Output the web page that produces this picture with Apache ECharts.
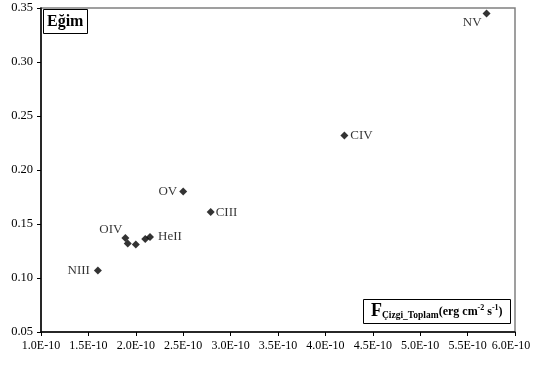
<!DOCTYPE html>
<html><head><meta charset="utf-8">
<script src="https://cdn.jsdelivr.net/npm/echarts@6/dist/echarts.min.js"></script>
<style>html,body{margin:0;padding:0;background:#fff}#c{width:533px;height:365px}</style>
</head><body><div id="c"></div>
<script>
// Flux values in units of 1E-10 erg cm^-2 s^-1
var names   = ['NIII','OIV','', '', '', 'HeII','OV','CIII','CIV','NV'];
var fluxE10 = [1.60, 1.89, 1.915, 2.00, 2.10, 2.15, 2.50, 2.79, 4.20, 5.70];
var slopes  = [0.107, 0.137, 0.132, 0.131, 0.136, 0.138, 0.180, 0.161, 0.232, 0.345];
var xTicks = ['1.0E-10','1.5E-10','2.0E-10','2.5E-10','3.0E-10','3.5E-10','4.0E-10','4.5E-10','5.0E-10','5.5E-10','6.0E-10'];
var yTicks = ['0.05','0.10','0.15','0.20','0.25','0.30','0.35'];

var labelPos = {
  'NIII': {position:'left', distance:4},
  'OIV':  {position:'left', distance:0, offset:[1,-8]},
  'HeII': {position:'right', distance:4},
  'OV':   {position:'left', distance:2},
  'CIII': {position:'right', distance:1},
  'CIV':  {position:'right', distance:2},
  'NV':   {position:'left', distance:1, offset:[0,9]}
};
var data = fluxE10.map(function(x,i){
  var d = {value:[x, slopes[i]], name:names[i]};
  if (names[i]) d.label = Object.assign({show:true}, labelPos[names[i]]);
  return d;
});
var serif = 'Liberation Serif';
var chart = echarts.init(document.getElementById('c'));
chart.setOption({
  animation:false,
  backgroundColor:'#fff',
  grid:{left:41, top:8, right:18, bottom:33, show:true, borderColor:'#808080', borderWidth:1.5,
        outerBoundsMode:'none', containLabel:false},
  xAxis:{type:'value', min:1.0, max:6.0, interval:0.5,
    axisLine:{show:true, onZero:false, lineStyle:{color:'#000', width:1.5}},
    axisTick:{show:true, length:4, lineStyle:{color:'#000'}},
    splitLine:{show:false},
    axisLabel:{color:'#000', fontFamily:serif, fontSize:12, margin:8,
      rich:{last:{color:'#000', fontFamily:serif, fontSize:12, padding:[0,8,0,0]}},
      formatter:function(v){ var i=Math.round((v-1.0)/0.5); var t=xTicks[i]||''; return i===xTicks.length-1 ? '{last|'+t+'}' : t; }}
  },
  yAxis:{type:'value', min:0.05, max:0.35, interval:0.05,
    axisLine:{show:true, onZero:false, lineStyle:{color:'#000', width:1.5}},
    axisTick:{show:true, length:4, lineStyle:{color:'#000'}},
    splitLine:{show:false},
    axisLabel:{color:'#000', fontFamily:serif, fontSize:12.5, margin:8,
      formatter:function(v){ var i=Math.round((v-0.05)/0.05); return yTicks[i]||''; }}
  },
  title:[
    {text:'Eğim', left:43, top:9, padding:[5,4,4,4], borderColor:'#000', borderWidth:1,
     textStyle:{fontFamily:serif, fontSize:16, fontWeight:'bold', color:'#000'}},
    {text:'{f|F}{s|Çizgi_Toplam}{u|(erg cm}{p|-2}{u| s}{p|-1}{u|)}', left:363, top:299,
     padding:[3,8,3,8], borderColor:'#000', borderWidth:1,
     textStyle:{rich:{
       f:{fontFamily:serif, fontSize:18, fontWeight:'bold', color:'#000'},
       s:{fontFamily:serif, fontSize:9.5, fontWeight:'bold', color:'#000', verticalAlign:'bottom', padding:[9,0,0,0]},
       u:{fontFamily:serif, fontSize:12, fontWeight:'bold', color:'#000'},
       p:{fontFamily:serif, fontSize:8, fontWeight:'bold', color:'#000', padding:[0,0,7,0]}
     }}}
  ],
  series:[{
    type:'scatter', symbol:'diamond', symbolSize:8,
    itemStyle:{color:'#000'},
    label:{show:false, color:'#000', fontFamily:serif, fontSize:13, formatter:'{b}'},
    data:data
  }]
});
</script></body></html>
